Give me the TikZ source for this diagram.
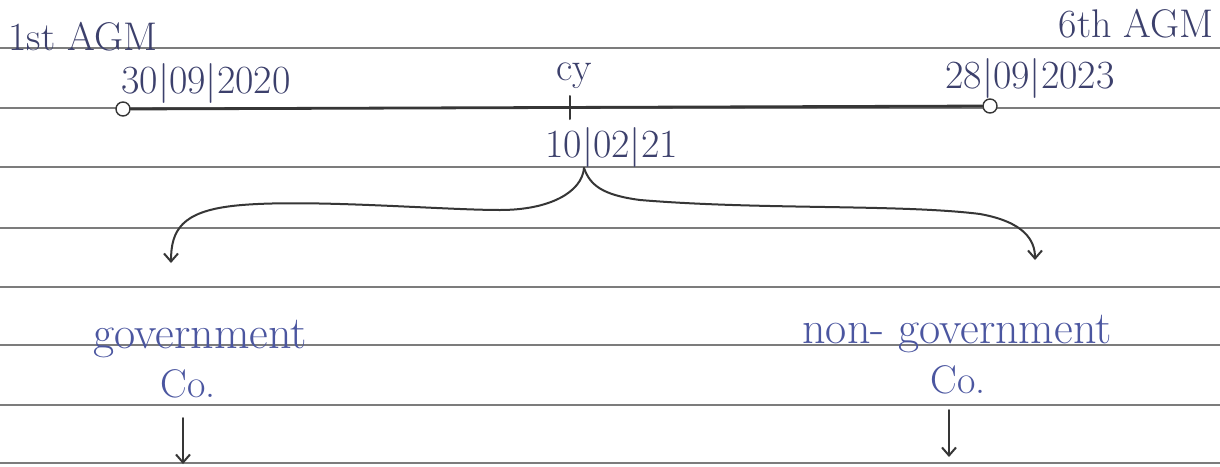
\documentclass[tikz,border=0pt]{standalone}
\usepackage{fontspec}
\usepackage{xcolor}
\usepackage{tikz}
\usetikzlibrary{calc,arrows.meta}
\definecolor{inkblue}{HTML}{3C406C}
\definecolor{penblue}{HTML}{4B56A0}
\definecolor{ruleline}{HTML}{7C7C7C}
\definecolor{penline}{HTML}{363636}
\newcommand{\HandFont}{\fontsize{20}{24}\selectfont}
\newcommand{\HandBigFont}{\fontsize{23}{27}\selectfont}

\begin{document}
\begin{tikzpicture}[x=0.5pt,y=-0.5pt,>={Straight Barb[length=4pt,width=7pt]},
    note/.style={text=inkblue,inner sep=0pt,anchor=base west},
    bluenote/.style={text=penblue,inner sep=0pt,anchor=base west},
    ruled/.style={draw=ruleline,line width=0.7pt},
    pen/.style={draw=penline,line width=1pt,line cap=round},
    endmark/.style={circle,draw=penline,fill=white,line width=0.7pt,inner sep=0pt,minimum size=7}]
        \useasboundingbox (0,0) rectangle (1220,466);
        \fill[white] (0,0) rectangle (1220,466);
        % paper lines
        \foreach \y in {48,108,167,228,287,345,405,463}
          \draw[ruled] (0,\y) -- (1220,\y);

        \node[note] (agm1) at (8,50) {{\HandFont 1st AGM}};
        \node[note,anchor=base east] (agm6) at (1214,37) {{\HandFont 6th AGM}};
        \node[note] (date1) at (121,93) {{\HandFont 30|09|2020}};
        \node[note] (cy) at (556,80) {{\HandFont cy}};
        \node[note] (date6) at (945,88) {{\HandFont 28|09|2023}};
        \node[note] (cydate) at (545,157) {{\HandFont 10|02|21}};

        \node[endmark] (start) at (123,109) {};
        \node[endmark] (finish) at (990,106) {};
        \draw[pen,line width=1.4pt] (start) -- (finish);
        \coordinate (ticktop) at (570,96);
        \coordinate (tickbot) at (570,119);
        \draw[pen] (ticktop) -- (tickbot);

        \coordinate (split) at (584,168);
        \coordinate (govtip) at (171,263);
        \coordinate (ngovtip) at (1035,260);
        \draw[pen,->] (split) .. controls (582,192) and (550,210) .. (500,210)
          .. controls (440,210) and (300,198) .. (232,206)
          .. controls (182,212) and (171,230) .. (govtip);
        \draw[pen,->] (split) .. controls (590,185) and (602,195) .. (640,200)
          .. controls (760,210) and (900,204) .. (980,214)
          .. controls (1024,222) and (1035,240) .. (ngovtip);

        \node[bluenote] (gov) at (93,348) {{\HandBigFont government}};
        \node[bluenote] (govco) at (160,397) {{\HandFont Co.}};
        \node[bluenote] (ngov) at (802,343) {{\HandBigFont non- government}};
        \node[bluenote] (ngovco) at (930,393) {{\HandFont Co.}};

        \coordinate (govdown) at (183,418);
        \coordinate (govend) at (183,464);
        \coordinate (ngovdown) at (949,410);
        \coordinate (ngovend) at (949,457);
        \draw[pen,->] (govdown) -- (govend);
        \draw[pen,->] (ngovdown) -- (ngovend);
      \end{tikzpicture}
\end{document}
